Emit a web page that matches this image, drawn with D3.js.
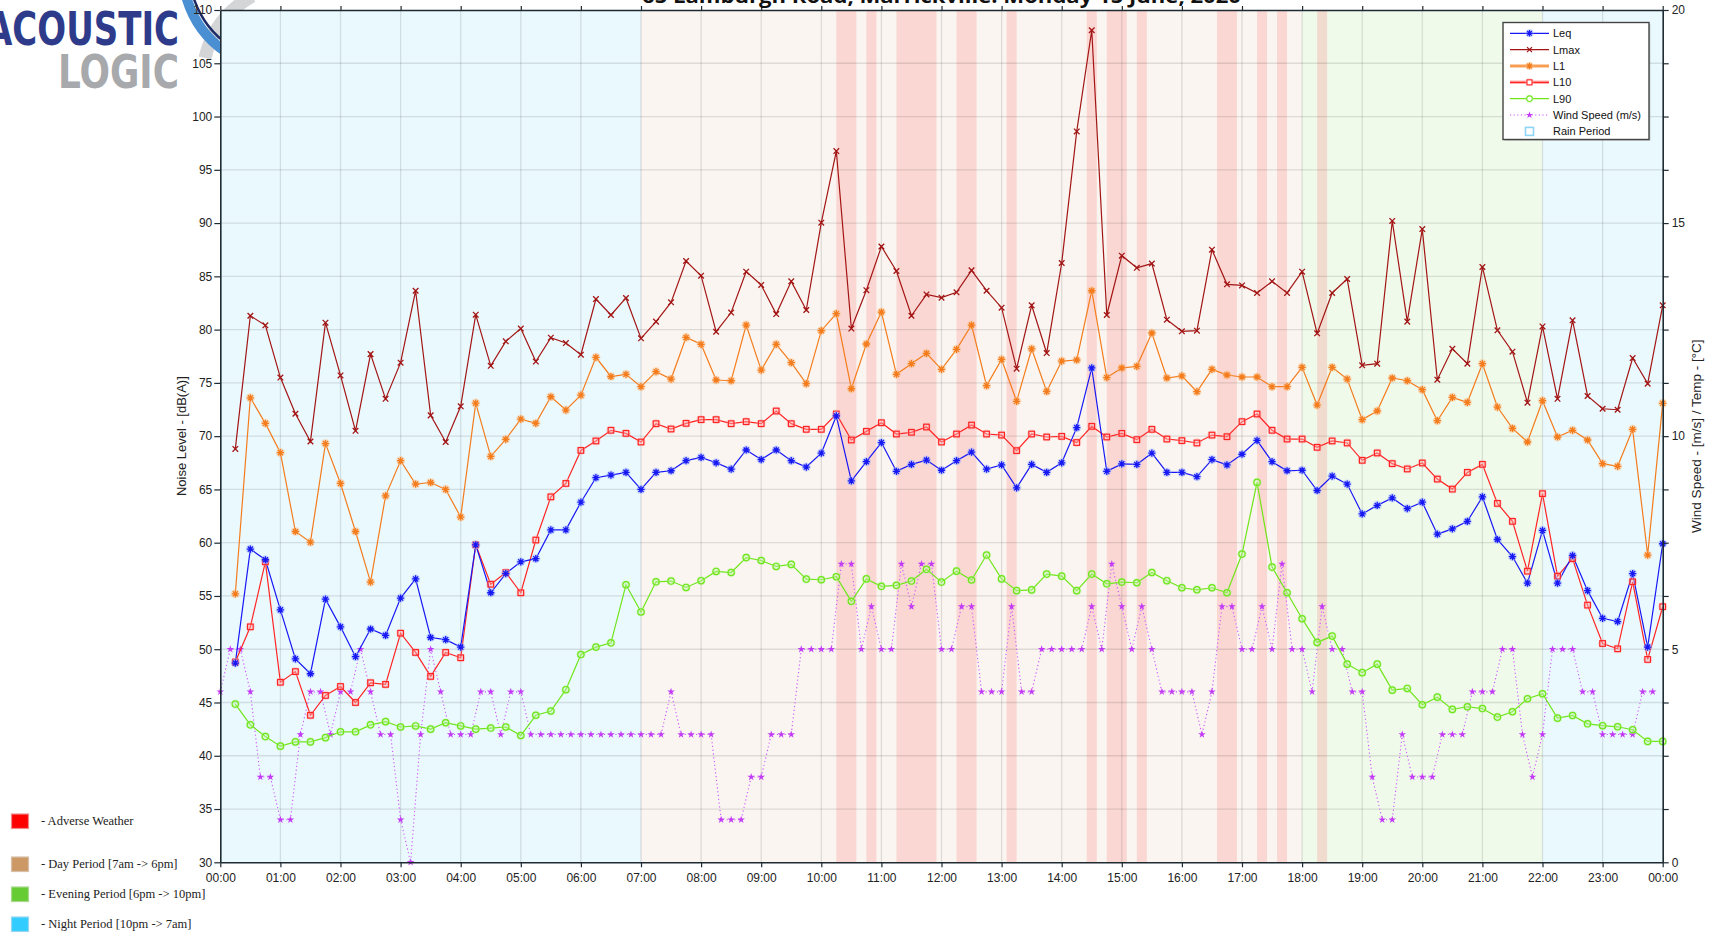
<!DOCTYPE html>
<html><head><meta charset="utf-8">
<script src="https://cdn.jsdelivr.net/npm/d3@7"></script>
<style>body{margin:0;background:#fff} svg{display:block}</style>
</head><body><svg id="c" width="1712" height="938"></svg>
<script>
// ---- DATA (15-minute intervals, 00:15 .. 24:00) ----
const leq = [48.7,59.4,58.4,53.7, 49.1,47.7,54.7,52.1, 49.3,51.9,51.3,54.8, 56.6,51.1,50.9,50.2,
  59.8,55.3,57.1,58.2, 58.5,61.2,61.2,63.8, 66.1,66.35,66.6,65.0, 66.6,66.75,67.7,68.0,
  67.5,66.9,68.7,67.8, 68.7,67.7,67.1,68.4, 71.9,65.8,67.6,69.4, 66.7,67.35,67.75,66.8,
  67.7,68.5,66.9,67.3, 65.15,67.35,66.6,67.5, 70.8,76.4,66.7,67.4, 67.35,68.4,66.6,66.6,
  66.2,67.8,67.3,68.3, 69.6,67.6,66.75,66.8, 64.9,66.25,65.5,62.7, 63.5,64.2,63.2,63.8,
  60.8,61.3,62.0,64.3, 60.3,58.7,56.2,61.15, 56.2,58.8,55.5,52.9, 52.6,57.1,50.2,59.9];
const lmax = [68.8,81.3,80.4,75.5, 72.1,69.5,80.65,75.7, 70.5,77.7,73.5,76.9, 83.65,71.95,69.45,72.8,
  81.4,76.6,78.9,80.1, 77.0,79.24,78.74,77.65, 82.87,81.37,82.97,79.18, 80.75,82.56,86.44,85.06,
  79.8,81.6,85.44,84.19, 81.46,84.53,81.84,90.04, 96.76,80.1,83.7,87.8, 85.5,81.3,83.3,83.0,
  83.5,85.56,83.65,82.06, 76.33,82.28,77.8,86.25, 98.6,108.1,81.37,86.94, 85.8,86.2,80.93,79.84,
  79.9,87.5,84.25,84.15, 83.44,84.53,83.44,85.44, 79.65,83.44,84.75,76.65, 76.8,90.2,80.75,89.44,
  75.3,78.2,76.8,85.88, 79.93,77.93,73.14,80.3, 73.5,80.87,73.77,72.57, 72.48,77.33,74.93,82.28];
const l1 = [55.2,73.6,71.2,68.45, 61.05,60.05,69.3,65.56, 61.05,56.3,64.4,67.7, 65.5,65.65,65.0,62.4,
  73.1,68.1,69.7,71.6, 71.2,73.7,72.45,73.85, 77.4,75.6,75.8,74.64, 76.05,75.36,79.27,78.62,
  75.27,75.2,80.43,76.2, 78.62,76.9,74.93,79.9, 81.5,74.45,78.65,81.65, 75.8,76.8,77.77,76.27,
  78.15,80.43,74.74,77.2, 73.27,78.2,74.2,77.05, 77.15,83.65,75.5,76.4, 76.55,79.68,75.46,75.65,
  74.17,76.27,75.74,75.55, 75.55,74.64,74.64,76.46, 72.92,76.46,75.36,71.55, 72.36,75.46,75.2,74.36,
  71.45,73.64,73.17,76.8, 72.73,70.73,69.45,73.33, 69.92,70.55,69.64,67.42, 67.17,70.64,58.84,73.08];
const l10 = [48.8,52.1,58.2,46.9, 47.9,43.8,45.66,46.5, 45.0,46.85,46.7,51.5, 49.7,47.45,49.7,49.2,
  59.8,56.1,57.2,55.3, 60.25,64.3,65.56,68.66, 69.55,70.55,70.26,69.45, 71.17,70.67,71.2,71.55,
  71.55,71.17,71.36,71.17, 72.36,71.17,70.64,70.64, 72.08,69.64,70.45,71.26, 70.2,70.36,70.86,69.45,
  70.2,71.04,70.2,70.1, 68.64,70.2,69.92,69.98, 69.4,70.92,69.92,70.26, 69.67,70.64,69.73,69.58,
  69.36,70.1,69.95,71.36, 72.08,70.55,69.73,69.73, 68.95,69.55,69.36,67.73, 68.42,67.42,66.92,67.48,
  65.97,65.03,66.6,67.35, 63.69,62.0,57.33,64.6, 56.86,58.5,54.14,50.54, 50.04,56.33,49.04,53.99];
const l90 = [44.85,42.9,41.8,40.9, 41.3,41.3,41.7,42.25, 42.25,42.9,43.2,42.7, 42.8,42.5,43.1,42.8,
  42.5,42.6,42.7,41.9, 43.8,44.2,46.2,49.5, 50.2,50.6,56.05,53.5, 56.33,56.4,55.8,56.43,
  57.3,57.2,58.6,58.33, 57.77,57.96,56.58,56.52, 56.8,54.5,56.6,55.9, 56.0,56.4,57.5,56.3,
  57.33,56.5,58.84,56.6, 55.5,55.57,57.05,56.86, 55.5,57.05,56.14,56.3, 56.24,57.2,56.43,55.77,
  55.58,55.77,55.3,58.93, 65.66,57.71,55.3,52.86, 50.64,51.23,48.6,47.8, 48.6,46.16,46.32,44.79,
  45.5,44.35,44.6,44.43, 43.63,44.13,45.35,45.82, 43.53,43.78,43.0,42.82, 42.72,42.44,41.35,41.35];
// Wind speed (m/s), 10-minute intervals 00:00 .. 23:50
const wind = [4,5,5,4,2,2, 1,1,3,4,4,3, 4,4,5,4,3,3, 1,0,3,5,4,3, 3,3,4,4,3,4, 4,3,3,3,3,3,
  3,3,3,3,3,3, 3,3,3,4,3,3, 3,3,1,1,1,2, 2,3,3,3,5,5, 5,5,7,7,5,6, 5,5,7,6,7,7,
  5,5,6,6,4,4, 4,6,4,4,5,5, 5,5,5,6,5,7, 6,5,6,5,4,4, 4,4,3,4,6,6, 5,5,6,5,7,5,
  5,4,6,5,5,4, 4,2,1,1,3,2, 2,2,3,3,3,4, 4,4,5,5,3,2, 3,5,5,5,4,4, 3,3,3,3,4,4];
// Adverse weather periods [start, end] in hours
const adverse = [[10.25,10.5833],[10.75,10.9167],[11.25,11.9167],[12.25,12.5833],[13.0833,13.25],
  [14.4167,14.5833],[14.75,15.0833],[15.25,15.4167],[16.5833,16.9167],[17.25,17.4167],[17.5833,17.75],[18.25,18.4167]];
const periods = [{s:0,e:7,k:'night'},{s:7,e:18,k:'day'},{s:18,e:22,k:'evening'},{s:22,e:24,k:'night'}];
const yTicks = d3.range(30,111,5);
const xTicks = d3.range(0,25,1);
const title = "65 Lamburgh Road, Marrickville: Monday 15 June, 2020";

// ---- LAYOUT ----
const m = {l:220.3, r:1662.7, t:10, b:862.3};
const x = d3.scaleLinear().domain([0,24]).range([m.l,m.r]);
const y = d3.scaleLinear().domain([30,110]).range([m.b,m.t]);
const y2 = d3.scaleLinear().domain([0,20]).range([m.b,m.t]);
const svg = d3.select('#c');
const FONT = '"Liberation Sans", Arial, sans-serif';
const bandCol = {night:'#eaf9fe', day:'#faf5f0', evening:'#f0faeb'};

// logo
const logo = svg.append('g');
logo.append('path').attr('d','M205,58 Q214,18 252,-4').attr('fill','none').attr('stroke','#d4d5d7').attr('stroke-width',13);
logo.append('path').attr('d','M186,-4 Q196,32 226,52').attr('fill','none').attr('stroke','#4b8fd3').attr('stroke-width',10);
logo.append('path').attr('d','M193,-4 Q203,28 230,46').attr('fill','none').attr('stroke','#1c2a66').attr('stroke-width',2.5);
logo.append('text').text('ACOUSTIC').attr('x',-14).attr('y',45).attr('font-family','"DejaVu Sans Condensed","DejaVu Sans",sans-serif')
  .attr('font-size',46).attr('font-weight','bold').attr('fill','#2e3b8b').attr('textLength',193).attr('lengthAdjust','spacingAndGlyphs');
logo.append('text').text('LOGIC').attr('x',58).attr('y',88).attr('font-family','"DejaVu Sans Condensed","DejaVu Sans",sans-serif')
  .attr('font-size',46).attr('font-weight','bold').attr('fill','#a7a9ac').attr('textLength',121).attr('lengthAdjust','spacingAndGlyphs');

// plot background
const plot = svg.append('g');
plot.append('rect').attr('x',m.l).attr('y',m.t).attr('width',m.r-m.l).attr('height',m.b-m.t).attr('fill','#fff');
plot.selectAll('rect.band').data(periods).join('rect').attr('class','band')
  .attr('x',d=>x(d.s)).attr('width',d=>x(d.e)-x(d.s)).attr('y',m.t).attr('height',m.b-m.t).attr('fill',d=>bandCol[d.k]);
plot.selectAll('rect.adv').data(adverse).join('rect').attr('class','adv')
  .attr('x',d=>x(d[0])).attr('width',d=>x(d[1])-x(d[0])).attr('y',m.t).attr('height',m.b-m.t)
  .attr('fill','#ff0000').attr('fill-opacity',0.12);

// gridlines
const grid = svg.append('g').attr('stroke','#000').attr('stroke-opacity',0.11).attr('stroke-width',1.3);
grid.selectAll('line.v').data(xTicks.slice(1,-1)).join('line').attr('x1',d=>x(d)).attr('x2',d=>x(d)).attr('y1',m.t).attr('y2',m.b);
grid.selectAll('line.h').data(yTicks.slice(1,-1)).join('line').attr('x1',m.l).attr('x2',m.r).attr('y1',d=>y(d)).attr('y2',d=>y(d));

// series
const tN = i => (i+1)/4;
const tW = i => i/6;
function drawLine(data, tf, yS, color, width, dash){
  svg.append('path').datum(data).attr('fill','none').attr('stroke',color).attr('stroke-width',width)
    .attr('stroke-dasharray',dash||null)
    .attr('d', d3.line().x((d,i)=>x(tf(i))).y(d=>yS(d)));
}
function astPath(r){let p='';for(let k=0;k<4;k++){const a=k*Math.PI/4,c=Math.cos(a)*r,s=Math.sin(a)*r;p+=`M${-c},${-s}L${c},${s}`;}return p;}
function markers(data, type, color, halo){
  const g = svg.append('g');
  const pts = g.selectAll('g').data(data).join('g').attr('transform',(d,i)=>`translate(${x(tN(i))},${y(d)})`);
  if(halo) pts.append('circle').attr('r',4.6).attr('fill',halo).attr('fill-opacity',0.45);
  if(type==='ast') pts.append('path').attr('d',astPath(3.6)).attr('stroke',color).attr('stroke-width',1.3);
  if(type==='x') pts.append('path').attr('d','M-2.8,-2.8L2.8,2.8M-2.8,2.8L2.8,-2.8').attr('stroke',color).attr('stroke-width',1.3);
  if(type==='sq') pts.append('rect').attr('x',-2.8).attr('y',-2.8).attr('width',5.6).attr('height',5.6).attr('fill','none').attr('stroke',color).attr('stroke-width',1.2);
  if(type==='ci') pts.append('circle').attr('r',3.2).attr('fill','none').attr('stroke',color).attr('stroke-width',1.2);
}
// wind
drawLine(wind, tW, y2, '#cf55ff', 1.1, '1.2,2.6');
svg.append('g').selectAll('path').data(wind).join('path')
  .attr('d', d3.symbol(d3.symbolStar, 18)())
  .attr('transform',(d,i)=>`translate(${x(tW(i))},${y2(d)})`).attr('fill','#c33cf5');

const series = [
  {d:l90,  c:'#6fe51a', t:'ci',  h:'#bdf5a0'},
  {d:l10,  c:'#ff2424', t:'sq',  h:'#ffb0b0'},
  {d:leq,  c:'#1818f5', t:'ast', h:'#9fb8ff'},
  {d:l1,   c:'#f47c1c', t:'ast', h:'#fbc08c'},
  {d:lmax, c:'#a31515', t:'x',   h:null}
];
series.forEach(s=>drawLine(s.d, tN, y, s.c, 1.2));
series.forEach(s=>markers(s.d, s.t, s.c, s.h));

// axes
const axCol = '#1e2b33';
function styleAxis(g){
  g.select('.domain').attr('stroke',axCol).attr('stroke-width',1.6);
  g.selectAll('.tick line').attr('stroke',axCol).attr('stroke-width',1.2);
  g.selectAll('.tick text').attr('fill','#222').attr('font-family',FONT).attr('font-size',12);
}
svg.append('g').attr('transform',`translate(${m.l},0)`)
  .call(d3.axisLeft(y).tickValues(yTicks).tickSize(6).tickPadding(2).tickSizeOuter(0)).call(styleAxis);
svg.append('g').attr('transform',`translate(${m.r},0)`)
  .call(d3.axisRight(y2).tickValues(d3.range(0,20.01,1.25)).tickFormat(v=>v%5===0?v:'').tickSize(6).tickPadding(3).tickSizeOuter(0)).call(styleAxis);
svg.append('g').attr('transform',`translate(0,${m.b})`)
  .call(d3.axisBottom(x).tickValues(xTicks).tickFormat(h=>String(h%24).padStart(2,'0')+':00').tickSize(5).tickPadding(6).tickSizeOuter(0)).call(styleAxis);
svg.append('g').attr('transform',`translate(0,${m.t})`)
  .call(d3.axisTop(x).tickValues(xTicks).tickFormat('').tickSize(4).tickSizeOuter(0)).call(styleAxis);

svg.append('text').text('Noise Level - [dB(A)]').attr('transform',`translate(186,${(m.t+m.b)/2}) rotate(-90)`)
  .attr('text-anchor','middle').attr('font-family',FONT).attr('font-size',13).attr('fill','#222');
svg.append('text').text('Wind Speed - [m/s] / Temp - [°C]').attr('transform',`translate(1701,${(m.t+m.b)/2}) rotate(-90)`)
  .attr('text-anchor','middle').attr('font-family',FONT).attr('font-size',13.5).attr('fill','#222');

// title
svg.append('text').text(title).attr('x',(m.l+m.r)/2).attr('y',3).attr('text-anchor','middle')
  .attr('font-family','"Open Sans", sans-serif').attr('font-weight','bold').attr('font-size',19).attr('fill','#111')
  .attr('textLength',599).attr('lengthAdjust','spacingAndGlyphs');

// legend
const lg = svg.append('g');
lg.append('rect').attr('x',1504.5).attr('y',24).attr('width',146).attr('height',117).attr('fill','#888').attr('opacity',0.35);
lg.append('rect').attr('x',1503).attr('y',22.5).attr('width',146).attr('height',117).attr('fill','#fff').attr('stroke','#444').attr('stroke-width',1.4);
const legItems = [
  {n:'Leq', c:'#1818f5', t:'ast', h:'#9fb8ff'},
  {n:'Lmax', c:'#a31515', t:'x'},
  {n:'L1', c:'#f47c1c', t:'ast', h:'#fbc08c', glow:true},
  {n:'L10', c:'#ff2424', t:'sq', h:'#ffb0b0', glow:true},
  {n:'L90', c:'#6fe51a', t:'ci', h:'#bdf5a0'},
  {n:'Wind Speed (m/s)', c:'#cf55ff', t:'wind'},
  {n:'Rain Period', t:'rain'}
];
legItems.forEach((it,i)=>{
  const yy = 33.3 + i*16.35;
  const g = lg.append('g').attr('transform',`translate(0,${yy})`);
  if(it.t==='rain'){
    g.append('rect').attr('x',1525.5).attr('y',-4).attr('width',8).attr('height',8).attr('fill','#fff').attr('stroke','#8fd6f6').attr('stroke-width',1.6);
  } else if(it.t==='wind'){
    g.append('line').attr('x1',1510).attr('x2',1549).attr('stroke',it.c).attr('stroke-width',1.1).attr('stroke-dasharray','1.2,2.4');
    g.append('path').attr('d',d3.symbol(d3.symbolStar,16)()).attr('transform','translate(1529.5,0)').attr('fill','#c33cf5');
  } else {
    if(it.glow) g.append('line').attr('x1',1510).attr('x2',1549).attr('stroke',it.h).attr('stroke-width',3.5);
    g.append('line').attr('x1',1510).attr('x2',1549).attr('stroke',it.c).attr('stroke-width',1.2);
    const mk = g.append('g').attr('transform','translate(1529.5,0)');
    if(it.h) mk.append('circle').attr('r',4).attr('fill',it.h).attr('fill-opacity',0.6);
    if(it.t==='ast') mk.append('path').attr('d',astPath(3.2)).attr('stroke',it.c).attr('stroke-width',1.2);
    if(it.t==='x') mk.append('path').attr('d','M-2.5,-2.5L2.5,2.5M-2.5,2.5L2.5,-2.5').attr('stroke',it.c).attr('stroke-width',1.2);
    if(it.t==='sq') mk.append('rect').attr('x',-2.5).attr('y',-2.5).attr('width',5).attr('height',5).attr('fill','#fff').attr('stroke',it.c).attr('stroke-width',1.1);
    if(it.t==='ci') mk.append('circle').attr('r',2.8).attr('fill','#fff').attr('stroke',it.c).attr('stroke-width',1.1);
  }
  g.append('text').text(it.n).attr('x',1553).attr('y',4).attr('font-family',FONT).attr('font-size',11).attr('fill','#111');
});

// period key (bottom left)
const keys = [
  {n:'- Adverse Weather', c:'#ff0000', b:'#f08a8a', y:814},
  {n:'- Day Period [7am -> 6pm]', c:'#cc9966', b:'#d8c0a8', y:857},
  {n:'- Evening Period [6pm -> 10pm]', c:'#66cc33', b:'#a8d890', y:887},
  {n:'- Night Period [10pm -> 7am]', c:'#33ccff', b:'#98d8ee', y:917}
];
const kg = svg.append('g');
keys.forEach(k=>{
  kg.append('rect').attr('x',11.5).attr('y',k.y).attr('width',17).attr('height',14.5).attr('fill',k.c).attr('stroke',k.b).attr('stroke-width',1.2);
  kg.append('text').text(k.n).attr('x',41).attr('y',k.y+10.5).attr('font-family','"Liberation Serif","DejaVu Serif",serif')
    .attr('font-size',12.5).attr('fill','#222');
});
</script></body></html>
